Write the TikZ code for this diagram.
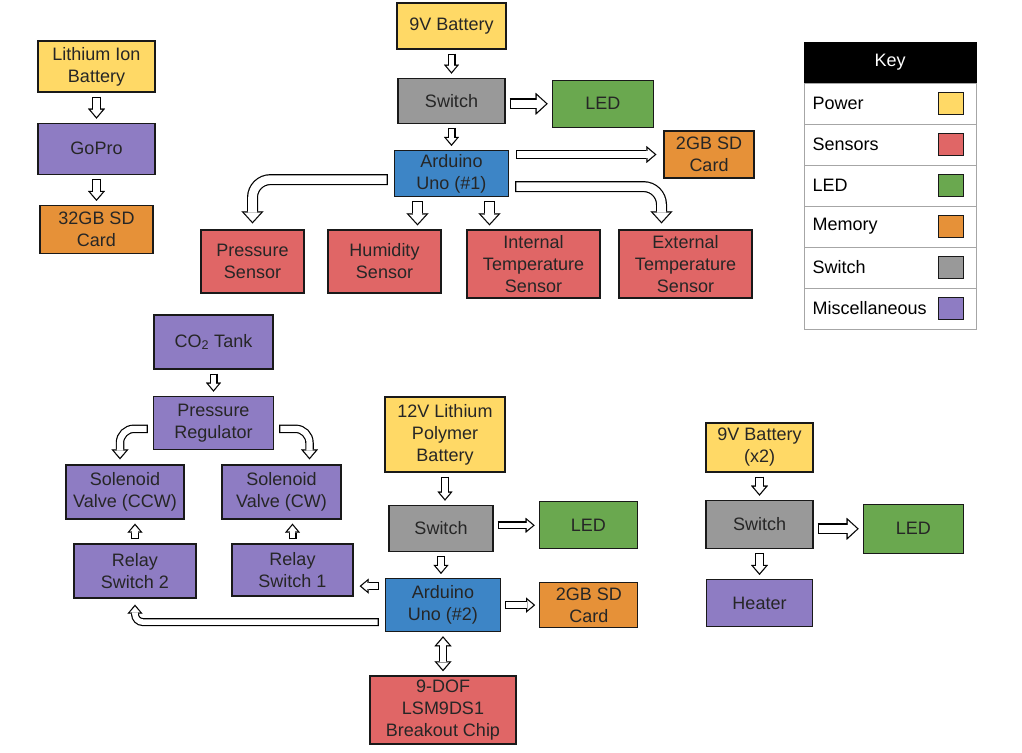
\documentclass[tikz,border=0pt]{standalone}
\usepackage{fontspec}
\setmainfont{Liberation Sans}
\usetikzlibrary{arrows.meta,positioning}
\definecolor{poweryellow}{HTML}{FFD966}
\definecolor{sensorred}{HTML}{E06666}
\definecolor{ledgreen}{HTML}{6AA84F}
\definecolor{memoryorange}{HTML}{E69138}
\definecolor{switchgray}{HTML}{999999}
\definecolor{miscpurple}{HTML}{8E7CC3}
\definecolor{arduinoblue}{HTML}{3D85C6}

\begin{document}
\begin{tikzpicture}[
    x=1pt, y=-1pt,
    font=\fontsize{18}{22}\selectfont,
    block/.style={draw=black!90, line width=1.3pt, align=center, inner sep=1pt, text=black!85},
    keyrow/.style={draw=black!35, line width=1pt, minimum width=172pt, minimum height=41pt},
    swatch/.style={draw=black!90, line width=0.8pt, minimum width=25pt, minimum height=22pt, inner sep=0pt},
    flowS/.style={draw=black, line width=8pt, shorten <=#1, shorten >=#1,
        -{Triangle[length=9pt,width=15pt,line width=0.1pt]},
        postaction={draw=white, line width=5.6pt, shorten <=#1+1.2pt, shorten >=#1+1.9pt,
            -{Triangle[length=5.9pt,width=9.9pt,line width=0.1pt]}}},
    flowS/.default=4pt,
    flowM/.style={draw=black, line width=8.5pt, shorten <=#1, shorten >=#1,
        -{Triangle[length=10pt,width=17pt,line width=0.1pt]},
        postaction={draw=white, line width=6.1pt, shorten <=#1+1.2pt, shorten >=#1+1.9pt,
            -{Triangle[length=6.9pt,width=11.7pt,line width=0.1pt]}}},
    flowM/.default=4pt,
    flowMd/.style={draw=black, line width=8.5pt, shorten <=#1, shorten >=#1,
        {Triangle[length=10pt,width=17pt,line width=0.1pt]}-{Triangle[length=10pt,width=17pt,line width=0.1pt]},
        postaction={draw=white, line width=6.1pt, shorten <=#1+1.9pt, shorten >=#1+1.9pt,
            {Triangle[length=6.9pt,width=11.7pt,line width=0.1pt]}-{Triangle[length=6.9pt,width=11.7pt,line width=0.1pt]}}},
    flowMd/.default=4pt,
    flowL/.style={draw=black, line width=11pt, shorten <=#1, shorten >=#1,
        -{Triangle[length=12pt,width=22pt,line width=0.1pt]},
        postaction={draw=white, line width=8.6pt, shorten <=#1+1.2pt, shorten >=#1+1.8pt,
            -{Triangle[length=9pt,width=16.5pt,line width=0.1pt]}}},
    flowL/.default=4pt
]
\path[use as bounding box, fill=white] (0,0) rectangle (1022,752);

% GoPro chain
\node[block, fill=poweryellow, minimum width=117pt, minimum height=51pt] (liion) at (96.5,66.5) {Lithium Ion\\Battery};
\node[block, fill=miscpurple, minimum width=117pt, minimum height=51pt, below=30pt of liion] (gopro) {GoPro};
\node[block, fill=memoryorange, minimum width=113pt, minimum height=48pt, below=30pt of gopro] (sd32) {32GB SD\\Card};

% Arduino #1
\node[block, fill=poweryellow, minimum width=109pt, minimum height=46pt] (bat9) at (451.5,26) {9V Battery};
\node[block, fill=switchgray, minimum width=107pt, minimum height=45pt, below=28pt of bat9] (sw1) {Switch};
\node[block, fill=ledgreen, minimum width=101pt, minimum height=47pt, right=46pt of sw1, yshift=-3pt] (led1) {LED};
\node[block, fill=arduinoblue, minimum width=114pt, minimum height=46pt, below=26pt of sw1] (ard1) {Arduino\\Uno (\#1)};
\node[block, fill=memoryorange, minimum width=90pt, minimum height=47pt] (sd1) at (709,154.5) {2GB SD\\Card};
\node[block, fill=sensorred, minimum width=103pt, minimum height=63pt] (press) at (252.5,261.5) {Pressure\\Sensor};
\node[block, fill=sensorred, minimum width=113pt, minimum height=63pt] (hum) at (384.5,261.5) {Humidity\\Sensor};
\node[block, fill=sensorred, minimum width=133pt, minimum height=68pt] (int) at (533.5,264) {Internal\\Temperature\\Sensor};
\node[block, fill=sensorred, minimum width=133pt, minimum height=68pt] (ext) at (685.5,264) {External\\Temperature\\Sensor};

% key
\node[fill=black, draw=black, text=white, minimum width=172pt, minimum height=41pt] (key) at (890,62.5) {Key};
\foreach \lab/\col [count=\i] in {Power/poweryellow, Sensors/sensorred, LED/ledgreen, Memory/memoryorange, Switch/switchgray, Miscellaneous/miscpurple} {
  \node[keyrow] (row\i) at (890,{62.5+41*\i}) {};
  \node[anchor=west, inner sep=0pt] (lab\i) at ([xshift=9pt]row\i.west) {\lab};
  \node[swatch, fill=\col] (sq\i) at ([xshift=-26pt]row\i.east) {};
}

% CO2 valves
\node[block, fill=miscpurple, minimum width=119pt, minimum height=54pt] (co2) at (213.5,342) {CO\textsubscript{2} Tank};
\node[block, fill=miscpurple, minimum width=120pt, minimum height=53pt, below=26pt of co2] (preg) {Pressure\\Regulator};
\node[block, fill=miscpurple, minimum width=118pt, minimum height=54pt] (solccw) at (125,492) {Solenoid\\Valve (CCW)};
\node[block, fill=miscpurple, minimum width=119pt, minimum height=54pt] (solcw) at (281.5,492) {Solenoid\\Valve (CW)};
\node[block, fill=miscpurple, minimum width=122pt, minimum height=54pt] (rel2) at (135,571) {Relay\\Switch 2};
\node[block, fill=miscpurple, minimum width=121pt, minimum height=52pt] (rel1) at (292.5,570) {Relay\\Switch 1};

% Arduino #2
\node[block, fill=poweryellow, minimum width=120pt, minimum height=75pt] (bat12) at (445,434.5) {12V Lithium\\Polymer\\Battery};
\node[block, fill=switchgray, minimum width=104pt, minimum height=46pt, below=32pt of bat12, xshift=-4pt] (sw2) {Switch};
\node[block, fill=ledgreen, minimum width=98pt, minimum height=47pt, right=45pt of sw2, yshift=3pt] (led2) {LED};
\node[block, fill=arduinoblue, minimum width=115pt, minimum height=53pt, below=26pt of sw2, xshift=2pt] (ard2) {Arduino\\Uno (\#2)};
\node[block, fill=memoryorange, minimum width=98pt, minimum height=45pt, right=38pt of ard2] (sd2) {2GB SD\\Card};
\node[block, fill=sensorred, minimum width=146pt, minimum height=68pt, below=43pt of ard2] (dof) {9-DOF\\LSM9DS1\\Breakout Chip};

% heater
\node[block, fill=poweryellow, minimum width=107pt, minimum height=49pt] (bat9b) at (759.5,447.5) {9V Battery\\(x2)};
\node[block, fill=switchgray, minimum width=107pt, minimum height=48pt, below=27pt of bat9b] (sw3) {Switch};
\node[block, fill=ledgreen, minimum width=100pt, minimum height=49pt, right=49pt of sw3, yshift=-4.5pt] (led3) {LED};
\node[block, fill=miscpurple, minimum width=106pt, minimum height=47pt, below=30pt of sw3] (heater) {Heater};

\draw[flowM] (liion) -- (gopro);
\draw[flowM] (gopro) -- (sd32);

\draw[flowS] (bat9) -- (sw1);
\draw[flowS] (sw1) -- (ard1);
\draw[flowL] (sw1.east |- led1.west) -- (led1.west);
\draw[flowM=7pt] (ard1.east |- sd1.west) -- (sd1.west);
\draw[flowL=6pt, rounded corners=18pt] ([yshift=-6pt]ard1.west) -| (press.north);
\draw[flowL=6pt, rounded corners=18pt] ([yshift=-13pt]ard1.east) -| ([xshift=-24pt]ext.north);
\draw[flowL] ([xshift=-34pt]ard1.south) -- ([xshift=-34pt]ard1.south |- hum.north);
\draw[flowL] ([xshift=38pt]ard1.south) -- ([xshift=38pt]ard1.south |- int.north);

\draw[flowS] (co2) -- (preg);
\draw[flowM=5pt, rounded corners=14pt] ([yshift=-6pt]preg.west) -| ([xshift=-5pt]solccw.north);
\draw[flowM=5pt, rounded corners=14pt] ([yshift=-6pt]preg.east) -| ([xshift=28pt]solcw.north);
\draw[flowS] (rel2.north) -- (rel2.north |- solccw.south);
\draw[flowS] (rel1.north) -- (rel1.north |- solcw.south);

\draw[flowS] (bat12.south) -- (bat12.south |- sw2.north);
\draw[flowS] (sw2.south) -- (sw2.south |- ard2.north);
\draw[flowS] (sw2.east |- led2.west) -- (led2.west);
\draw[flowS] (ard2.east) -- (ard2.east -| sd2.west);
\draw[flowMd] (ard2.south) -- (ard2.south |- dof.north);
\draw[flowS=6pt] ([yshift=19pt]ard2.west) -- ([yshift=19pt]ard2.west -| rel1.east);
\draw[flowS=6pt, rounded corners=8pt] ([yshift=-17pt]ard2.west) -| (rel2.south);

\draw[flowM] (bat9b) -- (sw3);
\draw[flowM] (sw3) -- (heater);
\draw[flowL] (sw3.east |- led3.west) -- (led3.west);
\end{tikzpicture}
\end{document}
